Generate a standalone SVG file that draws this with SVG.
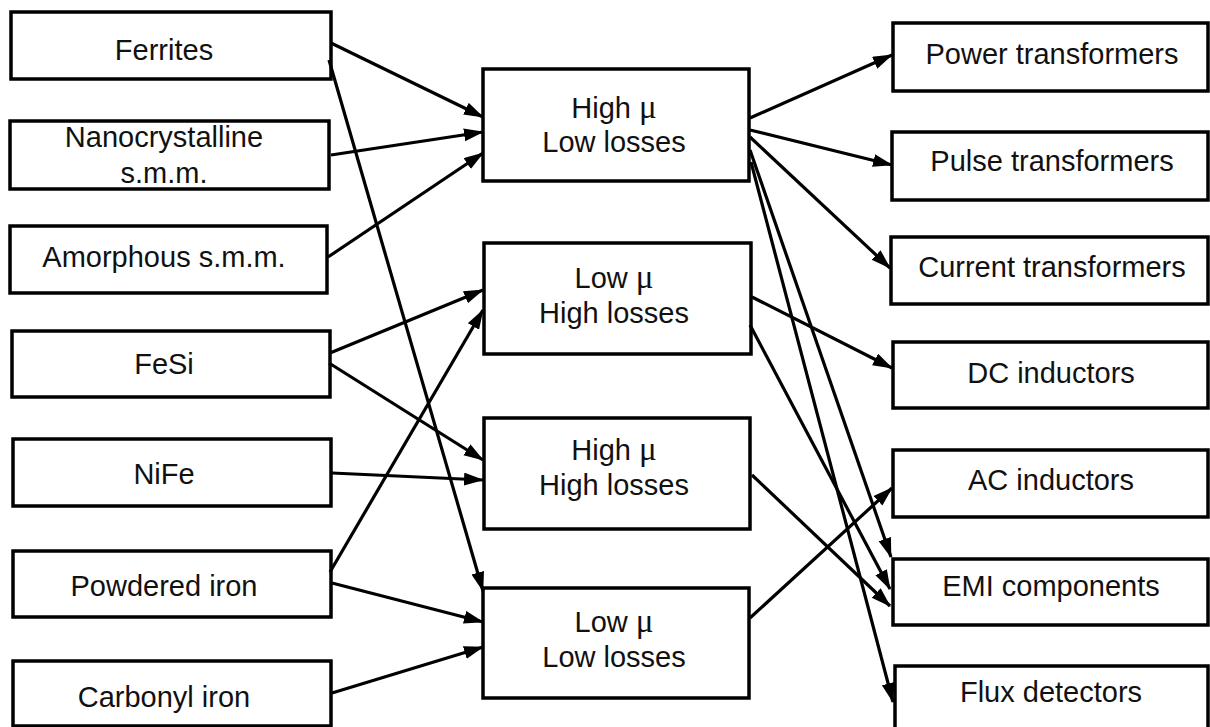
<svg xmlns="http://www.w3.org/2000/svg" width="1210" height="727" viewBox="0 0 1210 727">
<defs>
<style>
.box{fill:#fff;stroke:#000;stroke-width:3.5}
.t{font-family:"Liberation Sans",Arial,sans-serif;font-size:29px;fill:#111;text-anchor:middle}
.mu{font-family:"Liberation Serif","Times New Roman",serif;font-size:33px}
.c{stroke:#000;stroke-width:3.2;fill:none;marker-end:url(#ah)}
</style>
<marker id="ah" markerUnits="userSpaceOnUse" markerWidth="22" markerHeight="14" refX="19" refY="6.5" orient="auto">
<path d="M0,0 L20,6.5 L0,13 z" fill="#000"/>
</marker>
</defs>
<rect width="1210" height="727" fill="#fff"/>
<g id="ferrites"><rect class="box" x="11" y="12" width="320" height="67"/><text class="t" x="164" y="60">Ferrites</text></g>
<g id="nanocrystalline"><rect class="box" x="10" y="121" width="319" height="68"/><text class="t" x="164" y="147">Nanocrystalline</text><text class="t" x="164" y="183">s.m.m.</text></g>
<g id="amorphous"><rect class="box" x="10" y="226" width="317" height="67"/><text class="t" x="164" y="267">Amorphous s.m.m.</text></g>
<g id="fesi"><rect class="box" x="12" y="331" width="318" height="66"/><text class="t" x="164" y="374">FeSi</text></g>
<g id="nife"><rect class="box" x="13" y="439" width="318" height="67"/><text class="t" x="164" y="484">NiFe</text></g>
<g id="powdered-iron"><rect class="box" x="13" y="551" width="318" height="66"/><text class="t" x="164" y="596">Powdered iron</text></g>
<g id="carbonyl-iron"><rect class="box" x="13" y="661" width="318" height="65"/><text class="t" x="164" y="707">Carbonyl iron</text></g>

<g id="high-mu-low-losses"><rect class="box" x="483" y="69" width="266" height="112"/><text class="t" x="614" y="118">High <tspan class="mu">μ</tspan></text><text class="t" x="614" y="152">Low losses</text></g>
<g id="low-mu-high-losses"><rect class="box" x="484" y="243" width="267" height="111"/><text class="t" x="614" y="288">Low <tspan class="mu">μ</tspan></text><text class="t" x="614" y="323">High losses</text></g>
<g id="high-mu-high-losses"><rect class="box" x="484" y="418" width="266" height="111"/><text class="t" x="614" y="460">High <tspan class="mu">μ</tspan></text><text class="t" x="614" y="495">High losses</text></g>
<g id="low-mu-low-losses"><rect class="box" x="483" y="588" width="266" height="110"/><text class="t" x="614" y="632">Low <tspan class="mu">μ</tspan></text><text class="t" x="614" y="667">Low losses</text></g>

<g id="power-transformers"><rect class="box" x="893" y="23" width="315" height="68"/><text class="t" x="1052" y="64">Power transformers</text></g>
<g id="pulse-transformers"><rect class="box" x="892" y="132" width="316" height="68"/><text class="t" x="1052" y="171">Pulse transformers</text></g>
<g id="current-transformers"><rect class="box" x="891" y="237" width="317" height="67"/><text class="t" x="1052" y="277">Current transformers</text></g>
<g id="dc-inductors"><rect class="box" x="893" y="342" width="315" height="66"/><text class="t" x="1051" y="383">DC inductors</text></g>
<g id="ac-inductors"><rect class="box" x="893" y="450" width="315" height="67"/><text class="t" x="1051" y="490">AC inductors</text></g>
<g id="emi-components"><rect class="box" x="893" y="559" width="315" height="66"/><text class="t" x="1051" y="596">EMI components</text></g>
<g id="flux-detectors"><rect class="box" x="895" y="666" width="313" height="70"/><text class="t" x="1051" y="702">Flux detectors</text></g>

<g id="connectors">
<line class="c" x1="331" y1="43" x2="483" y2="117"/>
<line class="c" x1="329" y1="60" x2="483" y2="591"/>
<line class="c" x1="331" y1="155" x2="483" y2="132"/>
<line class="c" x1="328" y1="257" x2="483" y2="153"/>
<line class="c" x1="330" y1="353" x2="483" y2="290"/>
<line class="c" x1="329" y1="363" x2="483" y2="460"/>
<line class="c" x1="332" y1="473" x2="483" y2="480"/>
<line class="c" x1="330" y1="572" x2="483" y2="310"/>
<line class="c" x1="332" y1="583" x2="483" y2="622"/>
<line class="c" x1="332" y1="693" x2="483" y2="647"/>
<line class="c" x1="750" y1="118" x2="892" y2="55"/>
<line class="c" x1="750" y1="130" x2="892" y2="165"/>
<line class="c" x1="750" y1="137" x2="890" y2="268"/>
<line class="c" x1="750" y1="150" x2="891" y2="557"/>
<line class="c" x1="751" y1="162" x2="893" y2="702"/>
<line class="c" x1="752" y1="297" x2="892" y2="368"/>
<line class="c" x1="750" y1="325" x2="890" y2="589"/>
<line class="c" x1="752" y1="475" x2="890" y2="606"/>
<line class="c" x1="750" y1="618" x2="892" y2="488"/>
</g>
</svg>
